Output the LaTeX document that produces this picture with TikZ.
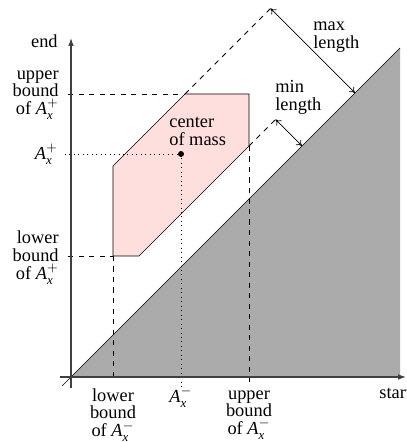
\documentclass[tikz,border=0pt]{standalone}
\usepackage{amsmath}
\usepackage{fontspec}
\setmainfont{Liberation Serif}
\usetikzlibrary{arrows.meta}
\newcommand{\Axp}{$\textit{A}^{+}_{\textit{x}}$}
\newcommand{\Axm}{$\textit{A}^{-}_{\textit{x}}$}
\tikzset{
  axisline/.style={draw=black!75, line width=0.65pt, -{Latex[length=4.5pt,width=3.2pt]}},
  thinline/.style={draw=black, line width=0.4pt},
  guide/.style={draw=black, line width=0.45pt, dashed},
  dotguide/.style={draw=black, line width=0.55pt, dotted},
  lenarrow/.style={draw=black, line width=0.4pt, {To[length=3pt,width=4pt]}-{To[length=3pt,width=4pt]}},
  lbl/.style={inner sep=0pt, font=\fontsize{10.5}{10.2}\selectfont},
}
\begin{document}
\begin{tikzpicture}[x=0.5714pt,y=0.5714pt]
\useasboundingbox (-71,-65) rectangle (335,377);
% points
\coordinate (O) at (0,0);
\coordinate (xs) at (-11,0);
\coordinate (xe) at (335,0);
\coordinate (ys) at (0,-11);
\coordinate (ye) at (0,339);
\coordinate (D1) at (-9,-9);
\coordinate (D2) at (329,329);
\coordinate (G1) at (329,0);
\coordinate (P1) at (42,121);
\coordinate (P2) at (68,121);
\coordinate (P3) at (178,231);
\coordinate (P4) at (178,283);
\coordinate (P5) at (114,283);
\coordinate (P6) at (42,211);
\coordinate (M) at (202,371);
\coordinate (N) at (207,260);
\coordinate (Ma) at (199.5,368.5);
\coordinate (Mb) at (284,284);
\coordinate (Na) at (204.5,257.5);
\coordinate (Nb) at (231,231);
\coordinate (C) at (110,223);
\coordinate (ub) at (-3,283);
\coordinate (lb) at (-3,121);
\coordinate (cm) at (-6,223);
\coordinate (cmd) at (110,-10);
\coordinate (lbd) at (42,-5);
\coordinate (ubd) at (178,-5);
% gray region
\fill[black!33] (O) -- (G1) -- (D2) -- cycle;
% pink polygon
\filldraw[fill=red!13, thinline] (P1) -- (P2) -- (P3) -- (P4) -- (P5) -- (P6) -- cycle;
% diagonal
\draw[thinline] (D1) -- (D2);
% dashed guides
\draw[guide] (ub) -- (P5);
\draw[guide] (lb) -- (P1);
\draw[guide] (P1) -- (lbd);
\draw[guide] (P3) -- (ubd);
\draw[guide] (P5) -- (M);
\draw[guide] (P3) -- (N);
% dotted guides
\draw[dotguide] (cm) -- (C);
\draw[dotguide] (C) -- (cmd);
\fill (C) circle[radius=1.7pt];
% length arrows
\draw[lenarrow] (Ma) -- (Mb);
\draw[lenarrow] (Na) -- (Nb);
% axes
\draw[axisline] (xs) -- (xe);
\draw[axisline] (ys) -- (ye);
% labels
\node[lbl, anchor=base east] (lend) at (-13,329) {end};
\node[lbl, anchor=east, align=right] (lub) at (-12,282) {upper\\bound\\of \Axp};
\node[lbl, anchor=east] (lap) at (-13,223) {\Axp};
\node[lbl, anchor=east, align=right] (llb) at (-12,119.5) {lower\\bound\\of \Axp};
\node[lbl, anchor=north, align=center] (llbm) at (42,-11) {lower\\bound\\of \Axm};
\node[lbl, anchor=north] (lam) at (110,-10) {\Axm};
\node[lbl, anchor=north, align=center] (lubm) at (178,-13) {upper\\bound\\of \Axm};
\node[lbl, anchor=base west] (lstart) at (308,-22) {start};
\node[lbl, anchor=west, align=left] (lcm) at (98,246) {center\\of mass};
\node[lbl, anchor=west, align=left] (lmax) at (242,340) {max\\length};
\node[lbl, anchor=west, align=left] (lmin) at (204,280) {min\\length};
\end{tikzpicture}
\end{document}
